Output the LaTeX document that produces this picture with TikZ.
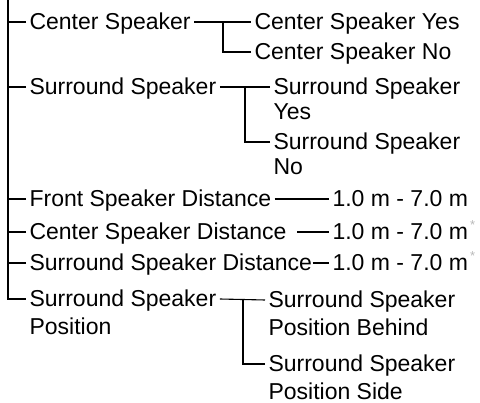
\documentclass[tikz,border=0pt]{standalone}
\usepackage{fontspec}
\setmainfont{Liberation Sans}
\usetikzlibrary{positioning}

\newcommand{\twoline}[2]{\begin{tabular}[t]{@{}l@{}}#1\\#2\end{tabular}}
\newcommand{\distmark}{\kern2pt\raisebox{10pt}{\fontsize{13}{13}\selectfont\color{gray!55}*}}

\begin{document}
\begin{tikzpicture}[x=1pt, y=-1pt, line width=1.1pt,
	item/.style={anchor=base west, inner xsep=3pt, inner ysep=0pt, font=\fontsize{23}{26}\selectfont},
	tight/.style={font=\fontsize{23}{24.5}\selectfont},
	loose/.style={font=\fontsize{23}{27.5}\selectfont}]
	
	\useasboundingbox (0,0) rectangle (480,403);
	
	% first level
	\node[item] (cs) at (26,30) {Center Speaker};
	\node[item] (ss) at (26,95) {Surround Speaker};
	\node[item] (fsd) at (26,207) {Front Speaker Distance};
	\node[item] (csd) at (26,240) {Center Speaker Distance};
	\node[item] (ssd) at (26,271) {Surround Speaker Distance};
	\node[item, loose] (ssp) at (26,307) {\twoline{Surround Speaker}{Position}};
	
	% second level
	\node[item] (csy) at (251,30) {Center Speaker Yes};
	\node[item] (csn) at (251,60) {Center Speaker No};
	
	\node[item, tight] (ssy) at (270,95) {\twoline{Surround Speaker}{Yes}};
	\node[item, tight] (ssn) at (270,150) {\twoline{Surround Speaker}{No}};
	
	\node[item] (fsdv) at (329,207) {1.0 m - 7.0 m};
	\node[item] (csdv) at (329,240) {1.0 m - 7.0 m\distmark};
	\node[item] (ssdv) at (329,271) {1.0 m - 7.0 m\distmark};
	
	\node[item, loose] (sspb) at (265,308) {\twoline{Surround Speaker}{Position Behind}};
	\node[item, loose] (ssps) at (265,372) {\twoline{Surround Speaker}{Position Side}};
	
	% trunk
	\coordinate (trunk) at (8,0);
	\draw (trunk) |- ([yshift=8pt]ssp.base west);
	\foreach \n in {cs,ss,fsd,csd,ssd}
		\draw ([yshift=8pt]\n.base west) -- +(-18,0);
	
	% forks
	\draw ([yshift=8pt]cs.base east) -- ([yshift=8pt]csy.base west);
	\draw ([yshift=8pt]csn.base west) -| ([xshift=-28pt,yshift=8pt]csy.base west);
	
	\draw ([yshift=8pt]ss.base east) -- ([yshift=8pt]ssy.base west);
	\draw ([yshift=8pt]ssn.base west) -| ([xshift=-25pt,yshift=8pt]ssy.base west);
	
	\draw ([yshift=8pt]ssp.base east) -- ([yshift=8pt]sspb.base west);
	\draw ([yshift=8pt]ssps.base west) -| ([xshift=-22pt,yshift=8pt]sspb.base west);
	
	% distances
	\draw ([yshift=8pt]fsd.base east) -- ([yshift=8pt]fsdv.base west);
	\draw ([xshift=7pt,yshift=8pt]csd.base east) -- ([yshift=8pt]csdv.base west);
	\draw ([xshift=-3pt,yshift=8pt]ssd.base east) -- ([yshift=8pt]ssdv.base west);
	
\end{tikzpicture}
\end{document}
